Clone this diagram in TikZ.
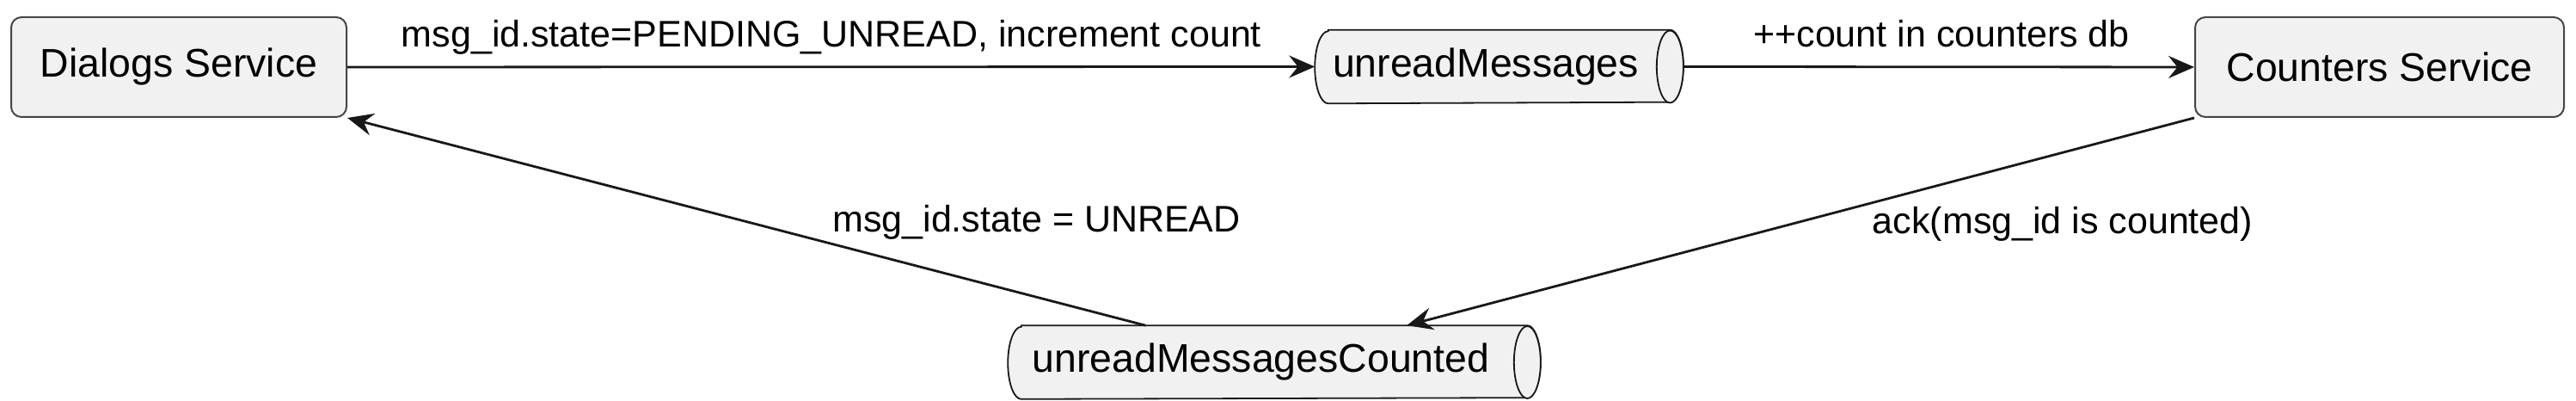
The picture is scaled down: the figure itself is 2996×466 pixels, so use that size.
\documentclass[tikz,border=0pt]{standalone}
\usepackage{fontspec}
\setmainfont{Liberation Sans}
\usetikzlibrary{arrows.meta,calc,backgrounds}
\definecolor{boxfill}{HTML}{F1F1F1}
\definecolor{boxline}{HTML}{181818}
\newcommand\nodefont{\fontsize{11.6pt}{14pt}\selectfont}
\newcommand\edgefont{\fontsize{10.75pt}{13pt}\selectfont}
\tikzset{
  svc/.style={draw=boxline!80, fill=boxfill, rounded corners=3pt, line width=0.5pt,
    minimum height=29pt, inner sep=0pt, font=\nodefont},
  qtext/.style={inner sep=0pt, minimum height=21pt, font=\nodefont},
  qshape/.style={draw=boxline, fill=boxfill, line width=0.45pt},
  conn/.style={-{Stealth[length=7.5pt,width=6.5pt,inset=2.6pt]}, line width=0.7pt, draw=boxline},
  elabel/.style={font=\edgefont, inner sep=0pt, anchor=base}
}
\newcommand\queueshape[1]{%
  \begin{scope}[on background layer]
    \draw[qshape] ($(#1.north west)+(15.5,0)$) -- ($(#1.north east)+(15.5,0)$)
      arc[start angle=90,end angle=-90,x radius=3.875pt,y radius=10.5pt]
      -- ($(#1.south west)+(15.5,0)$)
      arc[start angle=270,end angle=90,x radius=3.875pt,y radius=10.5pt] -- cycle;
    \draw[qshape] ($(#1.east)+(15.5,0)$) ellipse[x radius=3.875pt,y radius=10.5pt];
  \end{scope}}
\begin{document}
\begin{tikzpicture}[x=0.25pt,y=-0.25pt]
  \useasboundingbox (0,0) rectangle (2996,466);
  % nodes
  \node[svc, minimum width=97.5pt] (ds) at (208,78) {Dialogs Service};
  \node[svc, minimum width=107.25pt] (cs) at (2767.5,78) {Counters Service};
  \node[qtext, minimum width=99pt] (um) at (1728,77.5) {unreadMessages};
  \queueshape{um}
  \node[qtext, minimum width=146.75pt] (umc) at (1466.5,421) {unreadMessagesCounted};
  \queueshape{umc}
  % helper coordinates on the queues
  \coordinate (umR) at ($(um.east)+(31,0)$);
  \coordinate (umcIn) at ($(umc.north west)+(464,0)$);
  \coordinate (umcOut) at ($(umc.north west)+(160,0)$);
  % connectors
  \draw[conn] (ds.east) -- (um.west);
  \draw[conn] (umR) -- (cs.west);
  \draw[conn] (cs.south west) -- (umcIn);
  \draw[conn] (umcOut) -- (ds.south east);
  % labels
  \node[elabel] (l1) at (967,55) {msg\_id.state=PENDING\_UNREAD, increment count};
  \node[elabel] (l2) at (2258,55) {++count in counters db};
  \node[elabel] (l3) at (2399,272) {ack(msg\_id is counted)};
  \node[elabel] (l4) at (1205.5,270) {msg\_id.state = UNREAD};
\end{tikzpicture}
\end{document}
